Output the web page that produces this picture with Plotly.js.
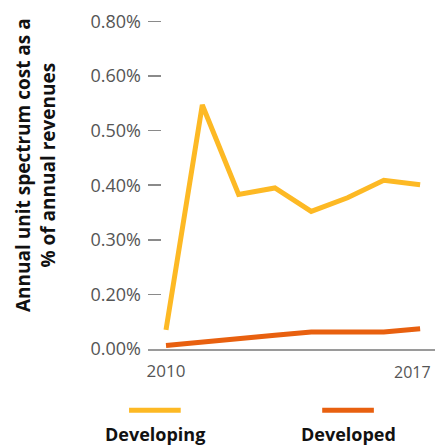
<!DOCTYPE html>
<html>
<head>
<meta charset="utf-8">
<script src="https://cdn.plot.ly/plotly-3.0.1.min.js"></script>
<style>html,body{margin:0;padding:0;background:#fff;}#chart{width:435px;height:448px;}</style>
</head>
<body>
<div id="chart"></div>
<script>
// Years on the x axis
const years = [2010, 2011, 2012, 2013, 2014, 2015, 2016, 2017];
// Values in axis units (each evenly spaced tick step = 0.1)
const developing = [0.035, 0.447, 0.283, 0.295, 0.252, 0.277, 0.309, 0.301];
const developed  = [0.0066, 0.012, 0.018, 0.025, 0.031, 0.031, 0.031, 0.037];
// Tick positions and the labels printed on them in the original chart
const yTickVals = [0, 0.1, 0.2, 0.3, 0.4, 0.5, 0.6];
const yTickText = ['0.00%', '0.20%', '0.30%', '0.40%', '0.50%', '0.60%', '0.80%'];
const xTickVals = [2010, 2017];
const seriesNames = ['Developing', 'Developed'];
const colors = ['#FDB924', '#E8600F'];
const yTitle = 'Annual unit spectrum cost as a<br>% of annual revenues';

const font = '"Open Sans", sans-serif';

const traces = [
  {x: years, y: developing, name: seriesNames[0], mode: 'lines',
   line: {color: colors[0], width: 5}, showlegend: false, hoverinfo: 'skip'},
  {x: years, y: developed, name: seriesNames[1], mode: 'lines',
   line: {color: colors[1], width: 5}, showlegend: false, hoverinfo: 'skip'}
];

// custom legend (line above bold label), in paper coordinates
const legendX = [0.024, 0.697];
const shapes = [];
const annotations = [];
seriesNames.forEach((n, i) => {
  shapes.push({type: 'line', xref: 'paper', yref: 'paper',
    x0: legendX[i] - 0.09, x1: legendX[i] + 0.09, y0: -0.181, y1: -0.181,
    line: {color: colors[i], width: 5}});
  annotations.push({xref: 'paper', yref: 'paper', x: legendX[i], y: -0.252,
    text: '<b>' + n + '</b>', showarrow: false, xanchor: 'center', yanchor: 'middle',
    font: {family: font, size: 18, color: '#111'}});
});
annotations.push({xref: 'paper', yref: 'paper', x: -0.39, y: 0.543,
  text: '<b>' + yTitle + '</b>', showarrow: false, textangle: -90,
  xanchor: 'center', yanchor: 'middle',
  font: {family: font, size: 19, color: '#111'}});
// last year label sits at the right edge; anchor it right so it stays inside
annotations.push({xref: 'paper', yref: 'paper', x: 1, y: -0.068,
  text: String(xTickVals[1]), showarrow: false, xanchor: 'right', yanchor: 'middle',
  xshift: -2, font: {family: font, size: 16, color: '#555'}});

const layout = {
  width: 435, height: 448,
  margin: {l: 148, r: 0, t: 10, b: 99},
  paper_bgcolor: '#fff', plot_bgcolor: '#fff',
  showlegend: false,
  xaxis: {
    range: [2009.504, 2017.41],
    tickvals: [xTickVals[0]], ticktext: [String(xTickVals[0])],
    showgrid: false, zeroline: false,
    showline: true, linecolor: '#9a9a9a', linewidth: 2,
    ticks: '', ticklabelstandoff: 6,
    tickfont: {family: font, size: 17, color: '#555'}
  },
  yaxis: {
    range: [0, 0.6209],
    tickvals: yTickVals, ticktext: yTickText,
    showgrid: false, zeroline: false, showline: false,
    ticks: 'inside', ticklen: 13, tickwidth: 1.5, tickcolor: '#8a8a8a',
    ticklabelstandoff: 6,
    tickfont: {family: font, size: 18, color: '#555'}
  },
  shapes: shapes,
  annotations: annotations
};

Plotly.newPlot('chart', traces, layout, {staticPlot: true, displayModeBar: false});
</script>
</body>
</html>
